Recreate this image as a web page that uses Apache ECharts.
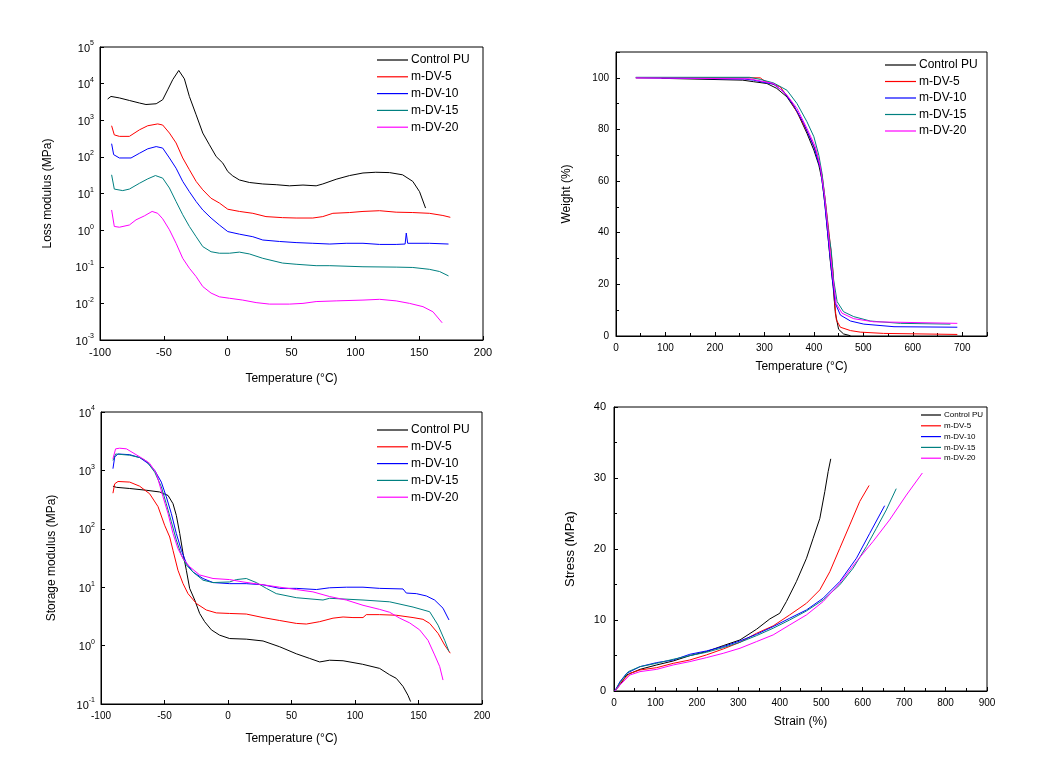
<!DOCTYPE html>
<html>
<head>
<meta charset="utf-8">
<script src="https://cdn.jsdelivr.net/npm/echarts@6/dist/echarts.min.js"></script>
<style>
html,body{margin:0;padding:0;background:#fff;}
#c{width:1063px;height:772px;}
</style>
</head>
<body>
<div id="c"></div>
<script>
// ---------- DATA ----------
const seriesNames = ["Control PU", "m-DV-5", "m-DV-10", "m-DV-15", "m-DV-20"];
const seriesColors = ["#000000", "#ff0000", "#0000ff", "#008080", "#ff00ff"];

// Panel 1: Loss modulus (MPa) vs Temperature (°C)
const loss_control = [[-94,3800],[-91.4,4470],[-84.8,4070],[-77,3470],[-69,2950],[-64,2690],[-56,2820],[-50.9,3630],[-47,6760],[-43,12900],[-38.3,22900],[-33.9,13500],[-30,4470],[-24.7,1410],[-19.5,447],[-14.3,214],[-9,102],[-3.8,67.6],[0.1,39.8],[4,30.2],[9.2,23.4],[17,20],[27.5,18.2],[38,17.4],[48.4,16.2],[59,17],[69.3,16.2],[74.5,18.2],[85,24.5],[95.5,30.9],[106,36.3],[116,38],[126.8,37.2],[137,32.4],[145,21.4],[150.3,11.2],[155,4.0]];
const loss_dv5 = [[-90.9,708],[-88.8,398],[-84.8,363],[-77,363],[-69,550],[-62.6,708],[-54.8,794],[-50.9,741],[-45.6,447],[-40.4,240],[-35.2,93.3],[-30,44.7],[-24.7,21.4],[-19.5,12.6],[-13,7.41],[-6.5,5.50],[0.1,3.72],[9.2,3.24],[19.7,2.88],[30,2.34],[43,2.19],[53.6,2.14],[66.7,2.14],[74.5,2.34],[82.4,2.88],[95.5,3.02],[106,3.24],[119,3.39],[132,3.09],[145,3.02],[158,2.88],[168.6,2.51],[174.4,2.24]];
const loss_dv10 = [[-90.9,229],[-89.3,115],[-84.8,93.3],[-75.7,93.3],[-69,126],[-62.6,166],[-56,191],[-50.9,174],[-45.6,93.3],[-40.4,49],[-35.2,21.4],[-30,11.2],[-24.7,6.03],[-19.5,3.55],[-13,2.14],[-6.5,1.38],[0.1,0.912],[9.2,0.776],[19.7,0.661],[27.5,0.537],[40.6,0.490],[53.6,0.457],[66.7,0.437],[80,0.417],[92.8,0.437],[106,0.437],[119,0.407],[132,0.407],[139,0.417],[139.9,0.832],[141,0.437],[158,0.437],[173,0.417]];
const loss_dv15 = [[-90.9,32.4],[-88.8,13.2],[-82.2,12],[-77,13.2],[-69,19.1],[-62.6,25.1],[-56.6,30.9],[-50.9,26.3],[-45.6,14.1],[-40.4,6.03],[-35.2,2.63],[-30,1.26],[-24.7,0.661],[-19.5,0.355],[-13,0.257],[-6.5,0.234],[1.4,0.234],[9.2,0.251],[17,0.224],[27.5,0.170],[43,0.126],[53.6,0.117],[69.3,0.107],[80,0.107],[106,0.1],[132,0.0977],[145,0.0955],[158,0.0851],[166,0.0741],[173,0.0562]];
const loss_dv20 = [[-90.9,3.55],[-88.8,1.26],[-84.8,1.20],[-77,1.38],[-71.8,1.91],[-65.2,2.45],[-59.2,3.24],[-54.8,2.88],[-50.9,2.04],[-45.6,1.02],[-40.4,0.437],[-35.2,0.170],[-30,0.0912],[-24.7,0.0537],[-19.5,0.0288],[-13,0.0191],[-6.5,0.0151],[1.4,0.0138],[11.8,0.0123],[22.3,0.0105],[32.7,0.00955],[48.4,0.00955],[59,0.01],[69.3,0.0112],[85,0.0117],[106,0.0123],[119,0.0129],[132,0.0117],[142.5,0.01],[153,0.00813],[160.8,0.00589],[168,0.00295]];

// Panel 2: Weight (%) vs Temperature (°C)
const tga_control = [[92,99.8],[256,99.1],[278,98.5],[305,97.8],[325,95.9],[345.6,92.6],[366,86.8],[386,78.5],[400,72],[410,66.2],[416.5,60.4],[423,50],[428,39.7],[433,29.4],[439,19.1],[443.5,8.8],[450,2.6],[460,0.8],[474,0.1]];
const tga_dv5 = [[40,100],[291.6,100],[300,98.8],[332,96.5],[352,91.4],[373,84.3],[393,76.5],[406,70.7],[416.5,62.3],[423,52.6],[430,41],[435,32],[439,24.3],[441.5,13.9],[445.5,6.2],[453.6,3.4],[474,2.1],[494,1.5],[541,1.0],[690,0.6]];
const tga_dv10 = [[40,100],[260,99.5],[278,99.1],[318.6,97.5],[339,94.6],[359,89.4],[379.5,82.3],[400,73.3],[413,64.9],[420,55.2],[426.6,42.3],[432,32],[437.5,21.7],[443.5,12.6],[453.6,8.1],[474,5.8],[501,4.6],[562,3.6],[690,3.4]];
const tga_dv15 = [[40,100.2],[270,100.2],[291.6,99.4],[318.6,98],[345.6,95.2],[366,90],[386,83],[400,77.2],[410,70],[416.5,63],[423,52.6],[430,39.7],[435,33.3],[440,21.7],[447,13.3],[460,9.4],[480.6,7.5],[514,5.8],[575,4.9],[676,4.6]];
const tga_dv20 = [[40,100],[270,99.6],[291.6,98.8],[318.6,97.8],[345.6,93.3],[366,88.1],[386,80.4],[403,73.3],[413,65.5],[421,55.2],[428,42.3],[433,32],[439,21.7],[445,12.6],[457,8.8],[480.6,6.7],[521,5.5],[690,4.9]];

// Panel 3: Storage modulus (MPa) vs Temperature (°C)
const stor_control = [[-90.6,537],[-87.9,513],[-77.4,490],[-64.3,457],[-53.8,427],[-47.2,372],[-43.3,269],[-40.7,170],[-38,83.2],[-35.4,38],[-32.8,19.5],[-30.2,9.55],[-26.2,6.03],[-22.3,3.55],[-18.4,2.57],[-13.1,1.86],[-6.6,1.51],[1.3,1.32],[14.4,1.29],[27.6,1.20],[40.7,0.955],[53.8,0.724],[64.3,0.603],[72.2,0.525],[80,0.562],[90.6,0.550],[106,0.479],[119.4,0.407],[127.3,0.316],[132.5,0.275],[137.8,0.2],[141.7,0.141],[143.8,0.110]];
const stor_dv5 = [[-90.6,407],[-89.2,589],[-86.6,646],[-77.4,631],[-69.6,537],[-61.7,398],[-55.1,240],[-49.9,115],[-45.9,72.4],[-43.3,42.7],[-39.4,19.5],[-35.4,11.5],[-31.5,7.76],[-24.9,5.25],[-17.1,4.07],[-9.2,3.63],[1.3,3.55],[14.4,3.47],[27.6,3.02],[40.7,2.69],[53.8,2.40],[61.7,2.34],[72.2,2.57],[82.7,2.95],[90.6,3.09],[98.4,3.02],[106.3,3.02],[108.9,3.39],[119.4,3.39],[132.5,3.31],[145.7,3.02],[153.5,2.82],[158.8,2.40],[165.4,1.62],[170.6,1.02],[175,0.741]];
const stor_dv10 = [[-90.6,1070],[-89.2,1700],[-86.6,1910],[-77.4,1860],[-69.6,1660],[-63,1320],[-57.7,1000],[-52.5,631],[-48.6,355],[-44.6,182],[-40.7,83.2],[-36.7,42.7],[-32.8,25.7],[-27.6,18.2],[-19.7,14.1],[-11.8,12.0],[1.3,11.5],[14.4,11.5],[27.6,11.0],[40.7,9.55],[53.8,9.55],[69.6,9.12],[80,9.77],[93.2,10],[106.3,10],[119.4,9.55],[137.8,9.33],[140.4,7.94],[148.3,7.76],[156.2,7.08],[162.7,6.03],[169.3,4.37],[174,2.75]];
const stor_dv15 = [[-90.6,1480],[-88.5,1910],[-77.4,1820],[-69.6,1660],[-64.3,1450],[-57.7,933],[-52.5,525],[-48.6,269],[-44.6,132],[-40.7,64.6],[-36.7,35.5],[-32.8,24],[-27.6,18.2],[-19.7,13.2],[-11.8,12],[1.3,12.3],[6.6,13.5],[14.4,14.1],[22.3,12],[30.2,9.55],[38,7.76],[53.8,6.61],[74.8,6.03],[80,6.46],[106.3,6.03],[127.3,5.62],[145.7,4.57],[158.8,3.80],[165.4,2.24],[170.6,1.23],[174,0.794]];
const stor_dv20 = [[-90.6,1580],[-88.5,2340],[-85.3,2400],[-80,2340],[-74.8,2000],[-66.9,1580],[-61.7,1320],[-56.4,891],[-51.2,355],[-47.2,182],[-43.3,83.2],[-39.4,45.7],[-35.4,30.9],[-30.2,22.4],[-22.3,16.2],[-11.8,14.1],[1.3,13.5],[11.8,12.3],[27.6,11],[40.7,10],[53.8,9.12],[66.9,8.32],[80,6.92],[93.2,6.03],[106.3,4.90],[119.4,4.17],[127.3,3.72],[135.2,2.95],[143,2.45],[150.9,1.86],[157.5,1.23],[162.7,0.692],[166.7,0.437],[169.3,0.257]];

// Panel 4: Stress (MPa) vs Strain (%)
const ss_control = [[2,0],[14.5,0.85],[30.5,2.26],[62.7,3.05],[103,3.67],[143,4.23],[183,4.98],[223,5.55],[263.6,6.39],[304,7.19],[344,8.70],[376,10.15],[400,10.95],[416,12.6],[440,15.4],[464.5,18.7],[480.5,21.5],[496.6,24.3],[508.7,28.1],[516.7,30.9],[523,32.7]];
const ss_dv5 = [[2,0],[14.5,1.08],[38.6,2.49],[62.7,2.96],[103,3.29],[143,3.90],[183,4.37],[223,5.08],[263.6,5.92],[304,6.86],[344,8.13],[384,9.17],[424,10.72],[464.5,12.36],[496.6,14.24],[520.7,16.8],[544.8,20.1],[569,23.4],[593,26.7],[615.5,28.95]];
const ss_dv10 = [[2,0],[14.5,1.32],[30.5,2.49],[62.7,3.43],[103,4.0],[143,4.37],[183,5.17],[223,5.64],[263.6,6.25],[304,7.05],[344,7.99],[384,9.07],[424,10.25],[464.5,11.42],[504.7,13.07],[544.8,15.42],[585,18.7],[617,22.2],[653,26.1]];
const ss_dv15 = [[2,0],[14.5,1.22],[34.5,2.73],[62.7,3.43],[103,3.90],[143,4.47],[183,4.98],[223,5.45],[263.6,6.11],[304,6.86],[344,7.80],[384,8.84],[424,10.01],[464.5,11.28],[504.7,12.83],[544.8,14.95],[577,17.3],[609,20.35],[633,22.9],[657,25.5],[681,28.5]];
const ss_dv20 = [[2,0],[14.5,0.85],[38.6,2.26],[62.7,2.73],[103,3.05],[143,3.67],[183,4.14],[223,4.70],[263.6,5.31],[304,6.02],[344,6.96],[384,7.90],[424,9.31],[464.5,10.72],[504.7,12.60],[544.8,15.18],[585,18.24],[625,21.06],[665,24.1],[705.5,27.6],[744,30.7]];

const panelData = [
  [loss_control, loss_dv5, loss_dv10, loss_dv15, loss_dv20],
  [tga_control, tga_dv5, tga_dv10, tga_dv15, tga_dv20],
  [stor_control, stor_dv5, stor_dv10, stor_dv15, stor_dv20],
  [ss_control, ss_dv5, ss_dv10, ss_dv15, ss_dv20]
];

// ---------- CHART ----------
const FONT = 'Arial, "Liberation Sans", sans-serif';
const chart = echarts.init(document.getElementById('c'), null, {renderer: 'canvas'});

const grids = [
  {left: 100, top: 47, width: 383, height: 293},
  {left: 616, top: 52, width: 371, height: 284},
  {left: 101, top: 412, width: 381, height: 292},
  {left: 614, top: 407, width: 373, height: 284}
];

function supFmt(v) {
  const e = Math.round(Math.log10(v));
  return '{b|10}{s|' + e + '}';
}
const supRich = {
  b: {fontSize: 11, fontFamily: FONT, color: '#000', lineHeight: 14, verticalAlign: 'bottom'},
  s: {fontSize: 7, fontFamily: FONT, color: '#000', lineHeight: 14, verticalAlign: 'top', padding: [0, 0, 6, 0]}
};

const baseAxis = {
  axisLine: {show: true, onZero: false, lineStyle: {color: '#000', width: 1}},
  axisTick: {show: true, inside: true, length: 4, lineStyle: {color: '#000'}},
  splitLine: {show: false},
  nameLocation: 'middle',
  nameTextStyle: {fontFamily: FONT, fontSize: 12, color: '#000'},
  axisLabel: {fontFamily: FONT, fontSize: 11, color: '#000', margin: 7}
};
function ax(o) { return Object.assign({}, JSON.parse(JSON.stringify(baseAxis)), o); }

const xAxes = [
  ax({gridIndex: 0, type: 'value', min: -100, max: 200, interval: 50, name: 'Temperature (°C)', nameGap: 33}),
  ax({gridIndex: 1, type: 'value', min: 0, max: 750, interval: 100, name: 'Temperature (°C)', nameGap: 25,
      minorTick: {show: true, splitNumber: 2, length: 3, lineStyle: {color: '#000'}},
      axisLabel: {fontFamily: FONT, fontSize: 10, color: '#000', margin: 7, showMaxLabel: false}}),
  ax({gridIndex: 2, type: 'value', min: -100, max: 200, interval: 50, name: 'Temperature (°C)', nameGap: 29,
      axisLabel: {fontFamily: FONT, fontSize: 10, color: '#000', margin: 7}}),
  ax({gridIndex: 3, type: 'value', min: 0, max: 900, interval: 100, name: 'Strain (%)', nameGap: 25,
      minorTick: {show: true, splitNumber: 2, length: 3, lineStyle: {color: '#000'}},
      nameTextStyle: {fontFamily: FONT, fontSize: 12, color: '#000'},
      axisLabel: {fontFamily: FONT, fontSize: 10, color: '#000', margin: 7}})
];
const yAxes = [
  ax({gridIndex: 0, type: 'log', logBase: 10, min: 0.001, max: 100000, splitNumber: 8, interval: 1,
      name: 'Loss modulus (MPa)', nameGap: 46,
      axisLabel: {formatter: supFmt, rich: supRich, margin: 6}}),
  ax({gridIndex: 1, type: 'value', min: 0, max: 110, interval: 20, name: 'Weight (%)', nameGap: 43,
      minorTick: {show: true, splitNumber: 2, length: 3, lineStyle: {color: '#000'}},
      axisLabel: {fontFamily: FONT, fontSize: 10, color: '#000', margin: 7, showMaxLabel: false}}),
  ax({gridIndex: 2, type: 'log', logBase: 10, min: 0.1, max: 10000, splitNumber: 5, interval: 1,
      name: 'Storage modulus (MPa)', nameGap: 43,
      axisLabel: {formatter: supFmt, rich: supRich, margin: 6}}),
  ax({gridIndex: 3, type: 'value', min: 0, max: 40, interval: 10, name: 'Stress (MPa)', nameGap: 37,
      minorTick: {show: true, splitNumber: 2, length: 3, lineStyle: {color: '#000'}},
      nameTextStyle: {fontFamily: FONT, fontSize: 13, color: '#000'},
      axisLabel: {fontFamily: FONT, fontSize: 11, color: '#000', margin: 8}})
];

const series = [];
panelData.forEach((arr, p) => {
  arr.forEach((d, i) => {
    series.push({
      name: seriesNames[i], type: 'line', xAxisIndex: p, yAxisIndex: p,
      data: d, showSymbol: false, symbol: 'none', smooth: false,
      lineStyle: {color: seriesColors[i], width: 1},
      itemStyle: {color: seriesColors[i]},
      emphasis: {disabled: true}, animation: false, z: 2 + i
    });
  });
});

function legend(left, top, fs, w, gap) {
  return {
    left: left, top: top, orient: 'vertical', data: seriesNames, icon: 'rect',
    itemWidth: w, itemHeight: 1.2, itemGap: gap, padding: 0,
    textStyle: {fontFamily: FONT, fontSize: fs, color: '#000', padding: [0, 0, 0, -2]},
    selectedMode: false
  };
}

chart.setOption({
  backgroundColor: '#fff',
  animation: false,
  grid: grids.map(g => Object.assign({show: true, borderColor: '#000', borderWidth: 1, backgroundColor: 'transparent', containLabel: false}, g)),
  xAxis: xAxes,
  yAxis: yAxes,
  legend: [
    legend(377, 54, 12, 31, 4.8),
    legend(885, 59, 12, 31, 4.5),
    legend(377, 424, 12, 31, 4.8),
    legend(921, 411, 8, 20, 2.8)
  ],
  series: series
});
</script>
</body>
</html>
